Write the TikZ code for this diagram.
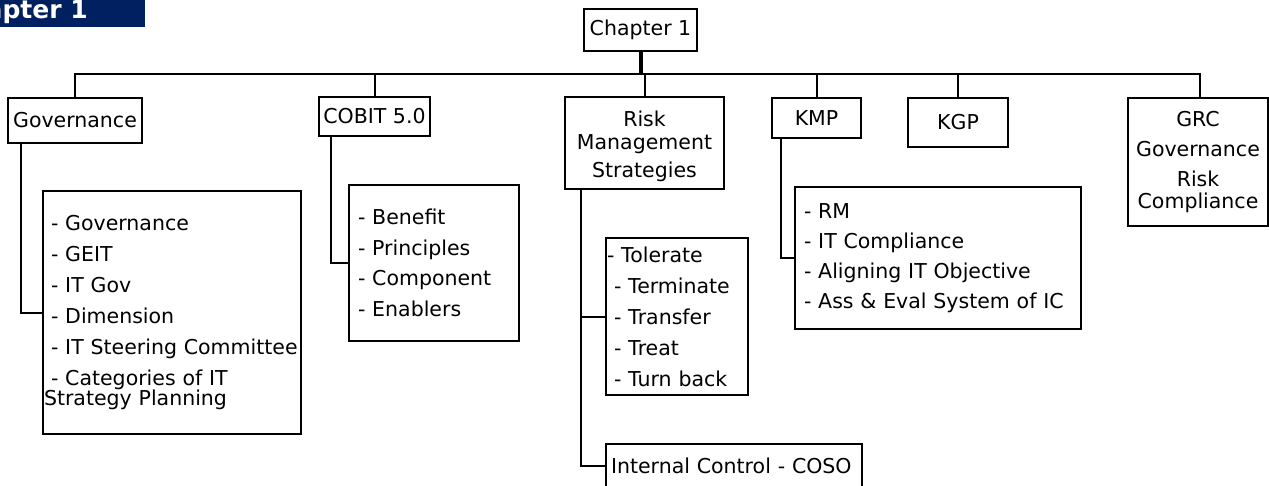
\documentclass[tikz,border=0pt]{standalone}
\usepackage{fontspec}
\setmainfont{DejaVu Sans}
\definecolor{bannerblue}{RGB}{0,32,96}
\tikzset{
  box/.style={draw, line width=2pt, fill=white, inner sep=0pt,
    font=\fontsize{20.5}{24}\selectfont},
  headbox/.style={box, align=center},
  listbox/.style={box, anchor=north west, align=left, inner ysep=0pt},
  link/.style={line width=2pt},
}
\begin{document}
\begin{tikzpicture}[x=1pt, y=-1pt]
\useasboundingbox (0,0) rectangle (1269,485);
\clip (0,0) rectangle (1269,485);

% title banner
\fill[bannerblue] (0,0) rectangle (145,27);
\node[anchor=base east, inner sep=0pt, text=white,
  font=\fontsize{25}{28}\selectfont\bfseries] (banner) at (88,18) {Chapter 1};

% root and first level
\node[headbox, minimum width=113pt, minimum height=42pt] (chap) at (640.5,30) {Chapter 1};
\node[headbox, minimum width=134pt, minimum height=45pt] (gov) at (75,120.5) {Governance};
\node[headbox, minimum width=111pt, minimum height=39pt] (cobit) at (374.5,116.5) {COBIT 5.0};
\node[headbox, minimum width=159pt, minimum height=92pt] (risk) at (644.5,143)
  {\rule{0pt}{22pt}Risk\\[-1pt]Management\\[4pt]Strategies};
\node[headbox, minimum width=89pt, minimum height=40pt] (kmp) at (816.5,118) {KMP};
\node[headbox, minimum width=100pt, minimum height=49pt] (kgp) at (958,122.5) {KGP};
\node[headbox, minimum width=140pt, minimum height=128pt,
  font=\fontsize{20.5}{22}\selectfont] (grc) at (1198,162)
  {GRC\\[8pt]Governance\\[8pt]Risk\\Compliance};

% detail lists
\node[listbox, text width=256pt, inner xsep=1pt, minimum height=243pt,
  font=\fontsize{20.5}{31}\selectfont] (govlist) at (42,190)
  {\hspace*{7pt}- Governance\\
   \hspace*{7pt}- GEIT\\
   \hspace*{7pt}- IT Gov\\
   \hspace*{7pt}- Dimension\\
   \hspace*{7pt}- IT Steering Committee\\
   \hspace*{7pt}- Categories of IT\\[-11pt]
   Strategy Planning};
\node[listbox, text width=152pt, inner xsep=9pt, minimum height=156pt,
  font=\fontsize{20.5}{30.5}\selectfont] (cobitlist) at (348,184)
  {- Benefit\\- Principles\\- Component\\- Enablers};
\node[listbox, text width=140pt, inner xsep=1pt, minimum height=157pt,
  font=\fontsize{20.5}{31}\selectfont] (risklist) at (605,237)
  {- Tolerate\\
   \hspace*{7pt}- Terminate\\
   \hspace*{7pt}- Transfer\\
   \hspace*{7pt}- Treat\\
   \hspace*{7pt}- Turn back};
\node[listbox, text width=246pt, inner xsep=5pt, minimum height=44pt] (ic) at (605,443)
  {Internal Control - COSO};
\node[listbox, text width=268pt, inner xsep=9pt, minimum height=142pt,
  font=\fontsize{20.5}{30}\selectfont] (kmplist) at (794,186)
  {- RM\\- IT Compliance\\- Aligning IT Objective\\- Ass \& Eval System of IC};

% tree connectors
\coordinate (bus) at (0,74);
\draw[link] (gov.north) -- (gov.north |- bus) -- ([xshift=2pt]grc.north |- bus)
  -- ([xshift=2pt]grc.north);
\draw[link] (cobit.north) -- (cobit.north |- bus);
\draw[link] (risk.north) -- (risk.north |- bus);
\draw[link] (kmp.north) -- (kmp.north |- bus);
\draw[link] (kgp.north) -- (kgp.north |- bus);
\draw[line width=4pt] (chap.south) -- ([yshift=1pt]chap.south |- bus);

\draw[link] ([xshift=14pt]gov.south west) |- (govlist.west);
\draw[link] ([xshift=13pt]cobit.south west) |- (cobitlist.west);
\draw[link] ([xshift=17pt]risk.south west) |- (risklist.west);
\draw[link] ([xshift=17pt]risk.south west) |- (ic.west);
\draw[link] ([xshift=10pt]kmp.south west) |- (kmplist.west);
\end{tikzpicture}
\end{document}
